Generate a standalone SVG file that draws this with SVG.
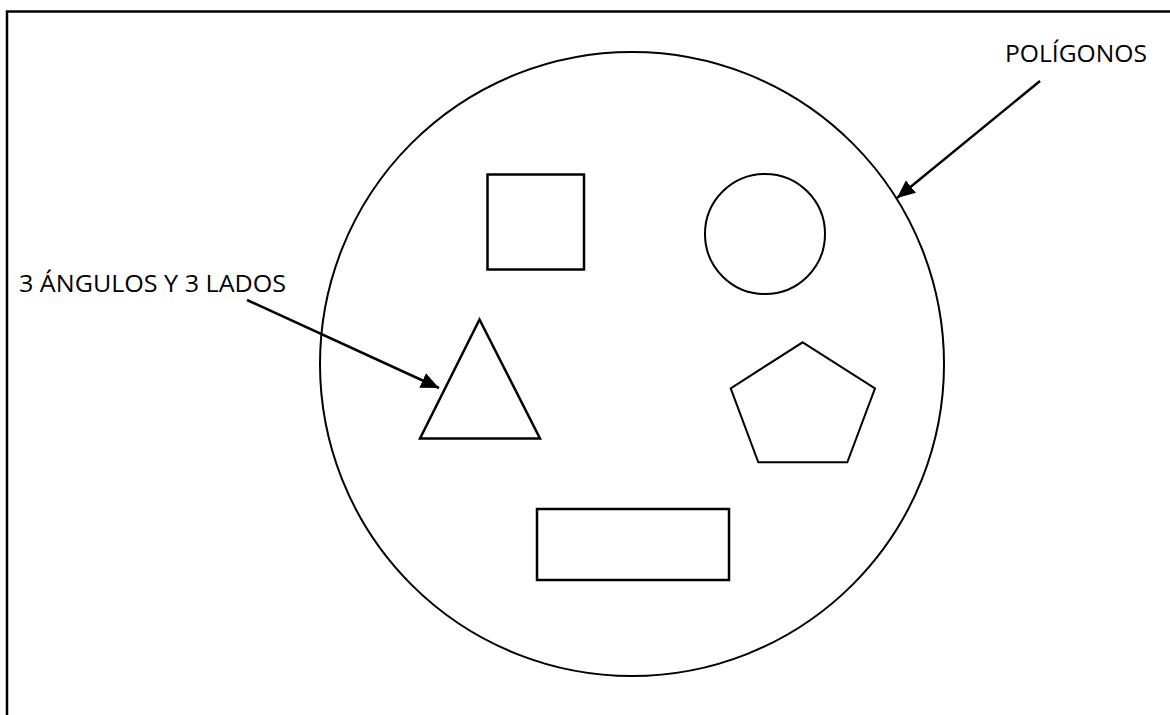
<svg xmlns="http://www.w3.org/2000/svg" width="1170" height="715" viewBox="0 0 1170 715">
<style>
.s{fill:none;stroke:#000;stroke-width:2}
.c{fill:none;stroke:#000;stroke-width:2.5}
.t{font-family:"Open Sans","Liberation Sans",sans-serif;font-size:23px;fill:#000}
</style>
<defs>
<marker id="ah" markerUnits="userSpaceOnUse" markerWidth="20" markerHeight="16" refX="18" refY="8" orient="auto">
<path d="M0,0 L18,8 L0,16 Z" fill="#000"/>
</marker>
</defs>
<rect x="0" y="0" width="1170" height="715" fill="#fff"/>
<path d="M7,715 V11.5 H1170" fill="none" stroke="#000" stroke-width="2.5"/>
<g id="poligonos"><circle class="s" cx="632" cy="364" r="312"/></g>
<g id="cuadrado"><rect class="c" x="487.5" y="174.5" width="96.5" height="95"/></g>
<g id="circulo"><circle class="s" cx="765" cy="234" r="60"/></g>
<g id="triangulo"><polygon class="c" points="479.5,319.5 420,438.5 540,438.5"/></g>
<g id="pentagono"><polygon class="s" points="802.7,342.3 875,388.3 847.3,462.3 758.3,462.3 730.7,388.3"/></g>
<g id="rectangulo"><rect class="c" x="537" y="509" width="192" height="71"/></g>
<g id="label-poligonos"><text class="t" x="1005" y="62" textLength="142" lengthAdjust="spacingAndGlyphs">POLÍGONOS</text></g>
<g id="label-triangulo"><text class="t" x="19" y="292" textLength="267" lengthAdjust="spacingAndGlyphs">3 ÁNGULOS Y 3 LADOS</text></g>
<g id="connectors">
<line x1="1040" y1="81" x2="897" y2="198" stroke="#000" stroke-width="2.5" marker-end="url(#ah)"/>
<line x1="247" y1="300" x2="439" y2="388" stroke="#000" stroke-width="2.5" marker-end="url(#ah)"/>
</g>
</svg>
